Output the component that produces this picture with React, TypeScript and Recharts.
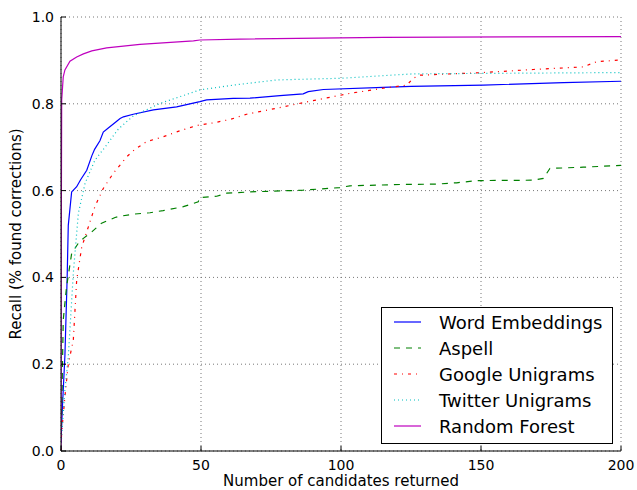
import {
  CartesianGrid,
  Legend,
  Line,
  LineChart,
  XAxis,
  YAxis,
} from "recharts";

// candidates returned (x) vs recall (y), one pair of arrays per method
const wordEmbX = [0, 0.5, 1.4, 2.2, 2.6, 3.8, 5.6, 7, 9.2, 11, 12, 13.9, 15.1, 17, 19.9, 21.1, 22.3, 25.8, 33, 41.3, 49.6, 52, 61.5, 67.5, 78.2, 86.5, 88.3, 93.7, 115, 125, 150.8, 179.4, 200];
const wordEmbY = [0.02, 0.1, 0.22, 0.4, 0.52, 0.597, 0.609, 0.625, 0.647, 0.68, 0.695, 0.715, 0.735, 0.745, 0.76, 0.766, 0.77, 0.776, 0.786, 0.793, 0.805, 0.809, 0.8125, 0.813, 0.819, 0.823, 0.828, 0.833, 0.838, 0.84, 0.843, 0.849, 0.852];

const aspellX = [0, 0.2, 0.8, 2, 3.8, 6.2, 8, 11, 14.5, 19.3, 21.1, 26.4, 31.8, 36.5, 43.7, 49, 49.6, 55.6, 59.2, 67.5, 86.5, 99.6, 103.2, 121, 134.2, 141.3, 148.5, 168.7, 172.3, 174.6, 186.5, 200];
const aspellY = [0, 0.071, 0.302, 0.379, 0.455, 0.479, 0.49, 0.505, 0.525, 0.538, 0.541, 0.546, 0.549, 0.554, 0.563, 0.574, 0.584, 0.587, 0.594, 0.597, 0.601, 0.607, 0.611, 0.614, 0.615, 0.618, 0.623, 0.624, 0.628, 0.651, 0.654, 0.658];

const googleX = [0, 0.2, 1.4, 2.6, 4.4, 5.6, 7.4, 9.8, 12.1, 15.1, 18.7, 23.5, 26.4, 30.6, 36.5, 42.5, 48.5, 54.4, 60.4, 66.3, 79.4, 91.3, 103.2, 115.1, 123.5, 125.8, 128.2, 150.8, 168.7, 186.5, 191.3, 200];
const googleY = [0, 0.04, 0.125, 0.2, 0.256, 0.394, 0.47, 0.517, 0.563, 0.605, 0.64, 0.678, 0.695, 0.713, 0.724, 0.738, 0.75, 0.756, 0.764, 0.776, 0.793, 0.809, 0.824, 0.836, 0.843, 0.859, 0.866, 0.872, 0.879, 0.885, 0.897, 0.901];

const twitterX = [0, 0.2, 1.4, 2.6, 4.4, 6.2, 8.6, 12.1, 15.7, 20.5, 25.8, 35.4, 49.6, 61.5, 77, 100.8, 125.8, 150.8, 200];
const twitterY = [0, 0.033, 0.14, 0.217, 0.41, 0.548, 0.617, 0.67, 0.7, 0.742, 0.772, 0.801, 0.832, 0.843, 0.855, 0.859, 0.869, 0.87, 0.872];

const forestX = [0, 0.1, 0.25, 0.8, 1.4, 3.2, 5.6, 8, 11, 16.3, 28.2, 47.3, 49.6, 63.9, 115, 200];
const forestY = [0, 0.5, 0.809, 0.862, 0.878, 0.898, 0.908, 0.915, 0.922, 0.929, 0.937, 0.945, 0.947, 0.949, 0.953, 0.955];

const xTicks = [0, 50, 100, 150, 200];
const yTicks = [0, 0.2, 0.4, 0.6, 0.8, 1.0];

const pairs = (xs: number[], ys: number[]) => xs.map((x, i) => ({ x, y: ys[i] }));

const series = [
  { name: "Word Embeddings", data: pairs(wordEmbX, wordEmbY), color: "#0000ff", dash: undefined },
  { name: "Aspell", data: pairs(aspellX, aspellY), color: "#008000", dash: "6 6" },
  { name: "Google Unigrams", data: pairs(googleX, googleY), color: "#ff0000", dash: "3 5 1 5" },
  { name: "Twitter Unigrams", data: pairs(twitterX, twitterY), color: "#00bfbf", dash: "1 3" },
  { name: "Random Forest", data: pairs(forestX, forestY), color: "#bf00bf", dash: undefined },
];

const font = "'DejaVu Sans', sans-serif";

function LegendBox() {
  return (
    <div
      style={{
        border: "1px solid #000",
        background: "#fff",
        width: 232,
        height: 137,
        boxSizing: "border-box",
        padding: "1px 0 0 0",
        fontFamily: font,
        fontSize: 18,
        color: "#000",
      }}
    >
      {series.map((s) => (
        <div key={s.name} style={{ display: "flex", alignItems: "center", height: 26 }}>
          <svg width={46} height={10} style={{ marginLeft: 11 }}>
            <line x1={1} y1={5} x2={28} y2={5} stroke={s.color} strokeWidth={1.2} strokeDasharray={s.dash} />
          </svg>
          <span>{s.name}</span>
        </div>
      ))}
    </div>
  );
}

export default function App() {
  const tickStyle = { fontSize: 14, fill: "#000", fontFamily: font };
  const labelStyle = { fontSize: 15, fill: "#000", fontFamily: font };
  return (
    <div style={{ position: "absolute", left: 0, top: 0, background: "#fff" }}>
      <LineChart width={637} height={490} margin={{ top: 17, right: 16, bottom: 0, left: 0 }}>
        <CartesianGrid stroke="#777" strokeDasharray="1 3" />
        <XAxis
          type="number"
          dataKey="x"
          domain={[0, 200]}
          ticks={xTicks}
          allowDataOverflow
          height={39}
          tickSize={-5}
          tickMargin={14}
          stroke="#000"
          tick={tickStyle}
          label={{ value: "Number of candidates returned", position: "insideBottom", offset: 4, style: labelStyle }}
        />
        <XAxis
          xAxisId="top"
          orientation="top"
          type="number"
          dataKey="x"
          domain={[0, 200]}
          ticks={xTicks}
          height={0}
          tickSize={-5}
          stroke="#000"
          tickFormatter={() => ""}
        />
        <YAxis
          type="number"
          domain={[0, 1]}
          ticks={yTicks}
          allowDataOverflow
          width={61}
          tickSize={-5}
          tickMargin={12}
          stroke="#000"
          tick={tickStyle}
          tickFormatter={(v: number) => v.toFixed(1)}
          label={{ value: "Recall (% found corrections)", angle: -90, position: "insideLeft", offset: 16, style: { ...labelStyle, textAnchor: "middle" } }}
        />
        <YAxis
          yAxisId="right"
          orientation="right"
          type="number"
          domain={[0, 1]}
          ticks={yTicks}
          width={0}
          tickSize={-5}
          stroke="#000"
          tickFormatter={() => ""}
        />
        {series.map((s) => (
          <Line
            key={s.name}
            data={s.data}
            dataKey="y"
            name={s.name}
            type="linear"
            stroke={s.color}
            strokeWidth={1.2}
            strokeDasharray={s.dash}
            dot={false}
            activeDot={false}
            isAnimationActive={false}
          />
        ))}
        <Legend
          layout="vertical"
          align="center"
          verticalAlign="middle"
          content={() => <LegendBox />}
          wrapperStyle={{ left: 381, top: 307, width: 232, bottom: "auto" }}
        />
      </LineChart>
    </div>
  );
}
